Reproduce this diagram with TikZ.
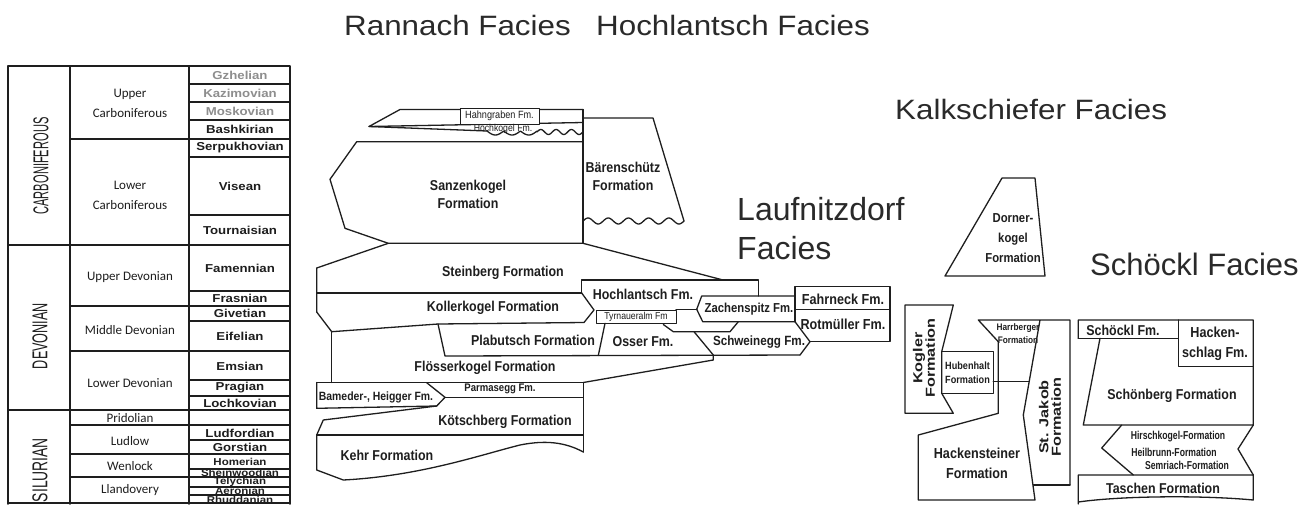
\documentclass[tikz,border=0pt]{standalone}
\usepackage{graphicx}
\usepackage{fontspec}
\setmainfont{Liberation Sans}
\newfontfamily\calfont{Carlito}
\definecolor{ink}{HTML}{1E1E1E}
\definecolor{stg}{HTML}{8E8E8E}
\definecolor{tcol}{HTML}{2A2A2A}
\newcommand\nw[1]{\scalebox{0.87}[1]{#1}}
\newcommand\sw[1]{\scalebox{1.15}[1]{#1}}
\newcommand\ww[1]{\scalebox{1.25}[1]{#1}}
\newcommand\hw[1]{\scalebox{0.75}[1]{#1}}
\newcommand\tw[1]{\scalebox{1.12}[1]{#1}}
\begin{document}
\begin{tikzpicture}[x=1pt,y=-1pt,line join=round,line cap=round,
  ln/.style={draw=ink,line width=1.3pt},
  thn/.style={draw=ink,line width=0.9pt},
  tl/.style={draw=ink,line width=1.7pt},
  lbl/.style={inner sep=0pt,text=ink,align=center},
  fmA/.style={lbl,font=\fontsize{14.3}{18}\selectfont\bfseries},
  fmS/.style={lbl,font=\fontsize{10.5}{12}\selectfont},
  stage/.style={lbl,font=\fontsize{11.5}{12}\selectfont\bfseries},
  stageS/.style={lbl,font=\fontsize{10}{10}\selectfont\bfseries},
  epoch/.style={lbl,font=\calfont\fontsize{13}{20}\selectfont},
  title/.style={inner sep=0pt,text=tcol,anchor=base west},
  rot/.style={lbl,rotate=90,font=\fontsize{13}{12.5}\selectfont\bfseries}]
\useasboundingbox (0,0) rectangle (1306,504);
\fill[white] (0,0) rectangle (1306,504);

% ---------------- titles
\node[title,font=\fontsize{28}{32}\selectfont] (rann) at (344,35) {\tw{Rannach Facies}};
\node[title,font=\fontsize{28}{32}\selectfont] (hochf) at (596,35) {\tw{Hochlantsch Facies}};
\node[title,font=\fontsize{28}{32}\selectfont] (kalk) at (895,119) {\tw{Kalkschiefer Facies}};
\node[title,font=\fontsize{32}{38}\selectfont] (lauf1) at (737,220) {Laufnitzdorf};
\node[title,font=\fontsize{32}{38}\selectfont] (lauf2) at (737,259) {Facies};
\node[title,font=\fontsize{31}{36}\selectfont] (schf) at (1090,275) {Schöckl Facies};

% ---------------- stratigraphic table
\node[stage,text=stg] (gzh) at (240,75) {\sw{Gzhelian}};
\node[stage,text=stg] (kaz) at (240,93) {\sw{Kazimovian}};
\node[stage,text=stg] (mos) at (240,111) {\sw{Moskovian}};
\node[stage] (bash) at (240,129.5) {\sw{Bashkirian}};
\node[stage] (serp) at (240,148) {\sw{Serpukhovian}};
\node[stage] (vis) at (240,186) {\sw{Visean}};
\node[stage] (tour) at (240,230) {\sw{Tournaisian}};
\node[stage] (fam) at (240,268) {\sw{Famennian}};
\node[stage] (fras) at (240,298.5) {\sw{Frasnian}};
\node[stage] (give) at (240,313.5) {\sw{Givetian}};
\node[stage] (eif) at (240,336) {\sw{Eifelian}};
\node[stage] (ems) at (240,366) {\sw{Emsian}};
\node[stage] (prag) at (240,388) {\sw{Pragian}};
\node[stage] (loch) at (240,403) {\sw{Lochkovian}};
\node[stage] (ludf) at (240,433) {\sw{Ludfordian}};
\node[stage] (gors) at (240,447) {\sw{Gorstian}};
\node[stageS] (hom) at (240,461.5) {\sw{Homerian}};
\node[stageS] (shein) at (240,472.5) {\sw{Sheinwoodian}};
\node[stageS] (tely) at (240,481.5) {\sw{Telychian}};
\node[stageS] (aer) at (240,491) {\sw{Aeronian}};
\node[stageS] (rhud) at (240,499.5) {\sw{Rhuddanian}};

\node[epoch] (ucarb) at (130,103) {Upper\\Carboniferous};
\node[epoch] (lcarb) at (130,195) {Lower\\Carboniferous};
\node[epoch] (udev) at (130,277) {Upper Devonian};
\node[epoch] (mdev) at (130,330) {Middle Devonian};
\node[epoch] (ldev) at (130,383) {Lower Devonian};
\node[epoch] (prid) at (130,418) {Pridolian};
\node[epoch] (ludl) at (130,441) {Ludlow};
\node[epoch] (wenl) at (130,466) {Wenlock};
\node[epoch] (lland) at (130,490) {Llandovery};

\node[lbl,rotate=90] (carb) at (41,166) {\resizebox{97pt}{15pt}{CARBONIFEROUS}};
\node[lbl,rotate=90] (dev) at (40,336) {\resizebox{66pt}{15pt}{DEVONIAN}};
\node[lbl,rotate=90] (sil) at (40,470) {\resizebox{64pt}{15pt}{SILURIAN}};

\draw[tl] (8,504) -- (8,66) -- (290,66) -- (290,504);
\draw[tl] (70,66) -- (70,504) (189,66) -- (189,504);
\foreach \yy in {245,410,503} \draw[tl] (8,\yy) -- (290,\yy);
\foreach \yy in {139,306,351,425,454,477} \draw[tl] (70,\yy) -- (290,\yy);
\foreach \yy in {84,102,120,157,215,291,321,380,396,440,469,487,495} \draw[tl] (189,\yy) -- (290,\yy);

% ---------------- Rannach / Hochlantsch facies
% Hahngraben / Hoechkogel wedge
\draw[ln] (583,109.5) -- (400,109.5) -- (369,126.5) -- (487,131);
\draw[ln] (369,126.5) -- (583,122.5);
\draw[ln] plot[domain=487:537,samples=60,smooth] (\x,{131+4*abs(sin((\x-487)/16.7*180))});
\draw[ln] plot[domain=537:583,samples=50,smooth] (\x,{132-2.5*sin((\x-537)/15.3*360)});
\draw[ln] (583,109.5) -- (583,243.3);
\node[fmS,draw=ink,line width=0.8pt,fill=white,minimum width=79pt,minimum height=16pt] (hahn) at (499.5,116) {\nw{Hahngraben Fm.}};
\node[fmS,font=\fontsize{10}{12}\selectfont] (hoek) at (503,128.5) {\nw{Höchkogel Fm.}};

% Sanzenkogel
\draw[ln] (583,141.7) -- (356.7,141.7) -- (330,179.3) -- (345,228.3) -- (388.3,243.3) -- (583,243.3);
\node[fmA] (sanz) at (468,194) {\nw{Sanzenkogel}\\\nw{Formation}};
% Baerenschuetz
\draw[ln] (583,118) -- (653,118) -- (684,221);
\draw[ln] plot[domain=583:684,samples=90,smooth] (\x,{221-3*sin((\x-583)/20.2*360)});
\node[fmA] (baer) at (623,176) {\nw{Bärenschütz}\\\nw{Formation}};

% Steinberg
\draw[ln] (388.3,243.3) -- (316.7,268) -- (316.7,312);
\draw[ln] (583,243.3) -- (723,280);
\draw[ln] (316.7,293) -- (581.7,293);
\node[fmA] (stein) at (503,273) {\nw{Steinberg Formation}};

% Kollerkogel
\draw[ln] (581.7,293) -- (594,310) -- (584,322.5) -- (438,324) -- (331.7,331.7) -- (316.7,312);
\node[fmA] (koll) at (493,308) {\nw{Kollerkogel Formation}};

% Hochlantsch
\draw[ln] (581.7,293) -- (581.7,280) -- (758.3,280) -- (758.3,296);
\node[fmA] (hochl) at (643,294) {\nw{Hochlantsch Fm.}};
\draw[thn] (596,310.7) rectangle (676,323.3);
\node[fmS,font=\fontsize{10}{12}\selectfont] (tyrn) at (636,317) {\nw{Tyrnaueralm Fm}};
\draw[ln] (676,309.3) -- (696.7,309.3);

% Zachenspitz
\draw[ln] (696.7,309.3) -- (701.7,296) -- (795,296);
\draw[ln] (696.7,309.3) -- (702.7,321.7) -- (795,321.7);
\node[fmA,font=\fontsize{13}{16}\selectfont\bfseries] (zach) at (749,309.5) {\nw{Zachenspitz Fm.}};

% Fahrneck / Rotmueller
\draw[ln] (795,321.7) -- (795,286.7) -- (890,286.7) -- (890,341.7) -- (810,341.7);
\draw[ln] (795,309.3) -- (890,309.3);
\node[fmA,font=\fontsize{14.5}{17}\selectfont\bfseries] (fahr) at (843,299) {\nw{Fahrneck Fm.}};
\node[fmA,font=\fontsize{14.5}{17}\selectfont\bfseries] (rotm) at (843,324) {\nw{Rotmüller Fm.}};

% Schweinegg
\draw[ln] (738.3,321.7) -- (730,331.7) -- (673.3,331.7) -- (663.3,324.5);
\draw[ln] (795,321.7) -- (810,341.7) -- (800,355);
\node[fmA,font=\fontsize{13.4}{16}\selectfont\bfseries] (schw) at (759,342) {\nw{Schweinegg Fm.}};

% Plabutsch / Osser
\draw[ln] (438,324) -- (445,356) -- (800,355);
\draw[ln] (605,323.3) -- (598.3,355.5);
\draw[ln] (694,331.7) -- (713.3,355) -- (713.3,360) -- (583.3,382.5);
\node[fmA] (plab) at (533,340) {\nw{Plabutsch Formation}};
\node[fmA] (osser) at (643,342) {\nw{Osser Fm.}};

% Floesserkogel
\draw[ln] (331.7,331.7) -- (331.7,382.5);
\draw[ln] (316.7,382.5) -- (583.3,382.5) -- (583.3,452);
\node[fmA] (floes) at (485,368) {\nw{Flösserkogel Formation}};

% Bameder / Parmasegg
\draw[ln] (426.7,382.7) -- (445,397.3) -- (436.7,406) -- (316.7,408.3) -- (316.7,382.5);
\draw[ln] (445,397.3) -- (583.3,397.3);
\node[fmA,font=\fontsize{12}{14}\selectfont\bfseries] (bam) at (376,397) {\nw{Bameder-, Heigger Fm.}};
\node[fmA,font=\fontsize{11}{13}\selectfont\bfseries] (parm) at (500,389) {\nw{Parmasegg Fm.}};

% Koetschberg / Kehr
\draw[ln] (436.7,406) -- (323.3,420) -- (316.7,435) -- (316.7,470) -- (343.3,480)
  .. controls (420,476) and (480,455) .. (520,445)
  .. controls (545,440) and (565,442) .. (583.3,452);
\draw[ln] (316.7,435) -- (583.3,435);
\node[fmA] (koet) at (505,422) {\nw{Kötschberg Formation}};
\node[fmA] (kehr) at (387,455) {\nw{Kehr Formation}};

% ---------------- Kalkschiefer facies
\draw[ln] (1002,178) -- (1035,178) -- (1045,276) -- (945,276) -- cycle;
\node[fmA,font=\fontsize{13}{20}\selectfont\bfseries] (dorn) at (1013,238) {\nw{Dorner-}\\\nw{kogel}\\\nw{Formation}};

% ---------------- Laufnitzdorf facies (right group)
\draw[ln] (905,305) -- (953.3,305) -- (941.7,351.7) -- (941.7,393.3) -- (953.3,413.3) -- (905,413.3) -- cycle;
\node[rot] (kogl) at (924,358) {\ww{Kogler}\\\ww{Formation}};
\draw[ln] (941.7,351.7) rectangle (993.3,393.3);
\node[fmS,font=\fontsize{10.5}{14}\selectfont\bfseries] (hub) at (967.5,372.5) {\nw{Hubenhalt}\\\nw{Formation}};
\draw[ln] (1070,485) -- (1070,320) -- (978.3,320) -- (998.3,341.7) -- (998.3,413.3) -- (918.3,435) -- (918.3,500) -- (1035,500) -- (1023.3,415) -- (1040,320);
\draw[ln] (1033.5,485) -- (1070,485);
\draw[ln] (993.3,381.7) -- (1029,381.7);
\node[fmS,font=\fontsize{9.5}{13}\selectfont\bfseries] (harr) at (1018,333.5) {\nw{Harrberger}\\\nw{Formation}};
\node[fmA,font=\fontsize{14.5}{20}\selectfont\bfseries] (hack) at (977,463) {\nw{Hackensteiner}\\\nw{Formation}};
\node[rot] (jak) at (1050,417) {\ww{St. Jakob}\\\ww{Formation}};

% ---------------- Schoeckl facies
\draw[ln] (1078.3,338.3) -- (1078.3,320) -- (1253.3,320) -- (1253.3,425) -- (1083.3,425) -- (1100,338.3);
\draw[ln] (1078.3,338.3) -- (1178.3,338.3);
\draw[ln] (1178.3,320) -- (1178.3,366.7) -- (1253.3,366.7);
\node[fmA] (schfm) at (1123,330) {\nw{Schöckl Fm.}};
\node[fmA,font=\fontsize{14.5}{20}\selectfont\bfseries] (hacks) at (1215,344) {\nw{Hacken-}\\\nw{schlag Fm.}};
\node[fmA] (schoen) at (1172,396) {\nw{Schönberg Formation}};
\draw[ln] (1121.7,425) -- (1101.7,448) -- (1133.3,475);
\draw[ln] (1253.3,425) -- (1238,449) -- (1253.3,475);
\node[fmS,font=\fontsize{11.5}{13}\selectfont\bfseries] (hirs) at (1178,437) {\hw{Hirschkogel-Formation}};
\node[fmS,font=\fontsize{11.5}{13}\selectfont\bfseries] (heil) at (1174,452) {\hw{Heilbrunn-Formation}};
\node[fmS,font=\fontsize{11.5}{13}\selectfont\bfseries] (semr) at (1187,465) {\hw{Semriach-Formation}};
\draw[ln] (1078.3,504) -- (1078.3,475) -- (1253.3,475) -- (1253.3,500)
  .. controls (1200,495) and (1120,496) .. (1078.3,502);
\node[fmA] (tasch) at (1163,488) {\nw{Taschen Formation}};
\end{tikzpicture}
\end{document}
